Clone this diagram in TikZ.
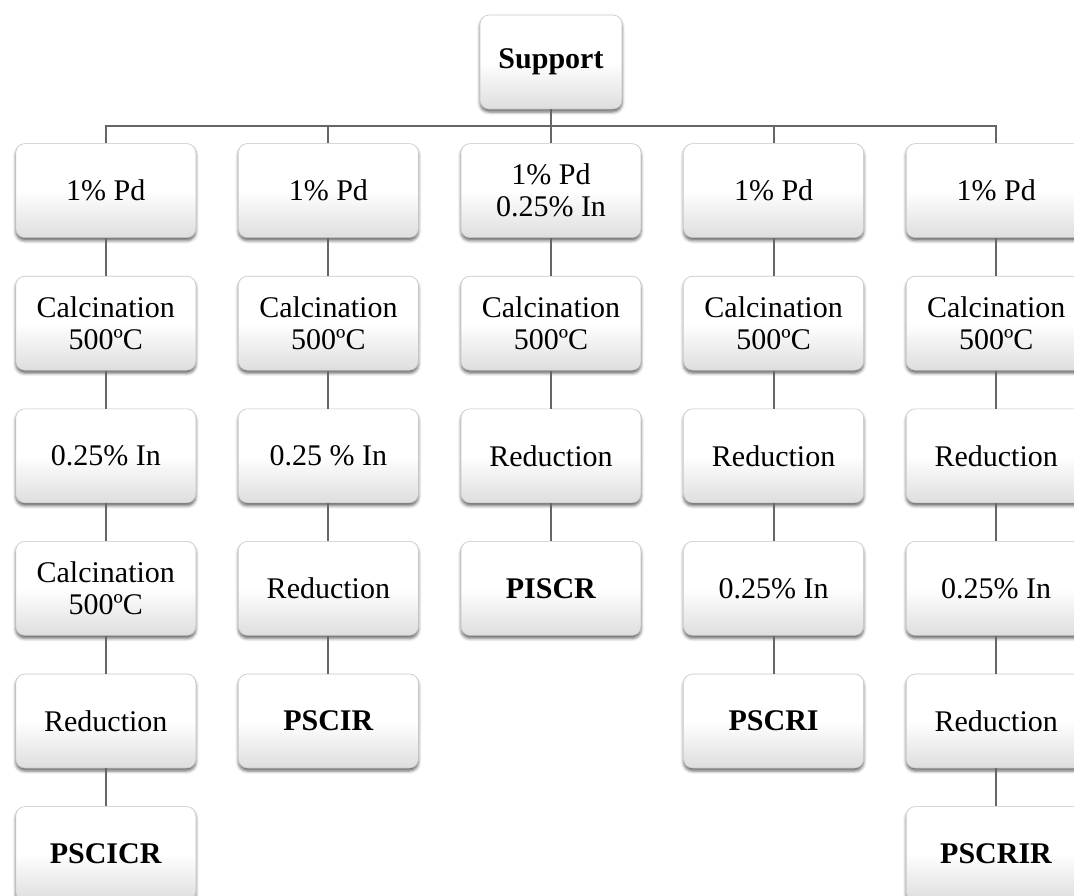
\documentclass[tikz,border=0pt]{standalone}
\usepackage{fontspec}
\setmainfont{Liberation Serif}
\usetikzlibrary{positioning, shadows.blur}
\colorlet{boxline}{gray!45}
\colorlet{linkgray}{gray!80!black}

\begin{document}
\begin{tikzpicture}[x=1pt, y=1pt,
    stage/.style={rectangle, 
      rounded corners=9pt, 
      draw=boxline, 
      line width=0.6pt, 
      top color=white, 
      bottom color=gray!26, 
      middle color=white, 
      minimum width=180pt, 
      minimum height=94pt, 
      inner sep=2pt, 
      align=center, 
      font=\fontsize{30}{32}\selectfont, 
      blur shadow={shadow xshift=0pt, shadow yshift=-3pt, 
        shadow blur radius=3pt, shadow opacity=60}},
    link/.style={draw=linkgray, line width=2pt}]
  \useasboundingbox (0,0) rectangle (1074,-895);


  \node [stage, 
    minimum width=142pt] at (551,-62) (supp) {\textbf{Support}};

  % first row
  \node [stage, below=34pt of supp] (cpd) {1\% Pd\\0.25\% In};
  \node [stage, left=42pt of cpd] (bpd) {1\% Pd};
  \node [stage, left=42pt of bpd] (apd) {1\% Pd};
  \node [stage, right=42pt of cpd] (dpd) {1\% Pd};
  \node [stage, right=42pt of dpd] (epd) {1\% Pd};


  \node [stage, below=38pt of apd] (acalc) {Calcination\\500ºC};
  \node [stage, below=38pt of acalc] (ain) {0.25\% In};
  \node [stage, below=38pt of ain] (acalctwo) {Calcination\\500ºC};
  \node [stage, below=38pt of acalctwo] (ared) {Reduction};
  \node [stage, below=38pt of ared] (apscicr) {\textbf{PSCICR}};


  \node [stage, below=38pt of bpd] (bcalc) {Calcination\\500ºC};
  \node [stage, below=38pt of bcalc] (bin) {0.25 \% In};
  \node [stage, below=38pt of bin] (bred) {Reduction};
  \node [stage, below=38pt of bred] (bpscir) {\textbf{PSCIR}};


  \node [stage, below=38pt of cpd] (ccalc) {Calcination\\500ºC};
  \node [stage, below=38pt of ccalc] (cred) {Reduction};
  \node [stage, below=38pt of cred] (cpiscr) {\textbf{PISCR}};


  \node [stage, below=38pt of dpd] (dcalc) {Calcination\\500ºC};
  \node [stage, below=38pt of dcalc] (dred) {Reduction};
  \node [stage, below=38pt of dred] (din) {0.25\% In};
  \node [stage, below=38pt of din] (dpscri) {\textbf{PSCRI}};


  \node [stage, below=38pt of epd] (ecalc) {Calcination\\500ºC};
  \node [stage, below=38pt of ecalc] (ered) {Reduction};
  \node [stage, below=38pt of ered] (ein) {0.25\% In};
  \node [stage, below=38pt of ein] (eredtwo) {Reduction};
  \node [stage, below=38pt of eredtwo] (epscrir) {\textbf{PSCRIR}};

  % support to first row
  \draw[link] (supp.south) -- ++(0,-17) -| (apd.north);
  \draw[link] (supp.south) -- ++(0,-17) -| (bpd.north);
  \draw[link] (supp.south) -- (cpd.north);
  \draw[link] (supp.south) -- ++(0,-17) -| (dpd.north);
  \draw[link] (supp.south) -- ++(0,-17) -| (epd.north);

  \draw[link] (apd.south) -- (acalc.north);
  \draw[link] (acalc.south) -- (ain.north);
  \draw[link] (ain.south) -- (acalctwo.north);
  \draw[link] (acalctwo.south) -- (ared.north);
  \draw[link] (ared.south) -- (apscicr.north);

  \draw[link] (bpd.south) -- (bcalc.north);
  \draw[link] (bcalc.south) -- (bin.north);
  \draw[link] (bin.south) -- (bred.north);
  \draw[link] (bred.south) -- (bpscir.north);

  \draw[link] (cpd.south) -- (ccalc.north);
  \draw[link] (ccalc.south) -- (cred.north);
  \draw[link] (cred.south) -- (cpiscr.north);

  \draw[link] (dpd.south) -- (dcalc.north);
  \draw[link] (dcalc.south) -- (dred.north);
  \draw[link] (dred.south) -- (din.north);
  \draw[link] (din.south) -- (dpscri.north);

  \draw[link] (epd.south) -- (ecalc.north);
  \draw[link] (ecalc.south) -- (ered.north);
  \draw[link] (ered.south) -- (ein.north);
  \draw[link] (ein.south) -- (eredtwo.north);
  \draw[link] (eredtwo.south) -- (epscrir.north);

\end{tikzpicture}
\end{document}
